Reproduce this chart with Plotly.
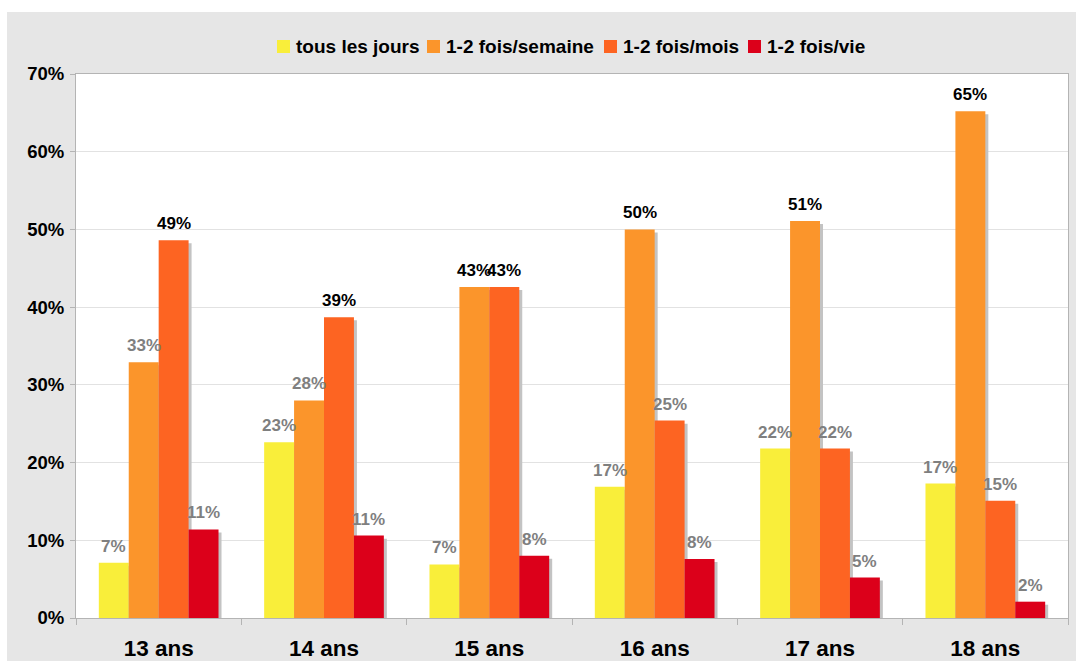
import plotly.graph_objects as go

# ── Data ───────────────────────────────────────────────────────────────────
ages = ["13 ans", "14 ans", "15 ans", "16 ans", "17 ans", "18 ans"]
series_names = ["tous les jours", "1-2 fois/semaine", "1-2 fois/mois", "1-2 fois/vie"]

tous_les_jours = [7.1, 22.6, 6.9, 16.9, 21.8, 17.3]
fois_semaine = [32.9, 28.0, 42.6, 50.0, 51.1, 65.2]
fois_mois = [48.6, 38.7, 42.6, 25.4, 21.8, 15.1]
fois_vie = [11.4, 10.6, 8.0, 7.6, 5.2, 2.1]

y_ticks = [0, 10, 20, 30, 40, 50, 60, 70]
y_tick_labels = ["0%", "10%", "20%", "30%", "40%", "50%", "60%", "70%"]

# ── Style ──────────────────────────────────────────────────────────────────
COLORS = ["#f9ee3a", "#fb952b", "#fd6422", "#dc001a"]
SHADOW = "#c3c3c3"
FONT = "Arial, Liberation Sans, sans-serif"
BAR_W = 0.181
SHADOW_DX = 3 / 165.3      # ~3 px right
SHADOW_DY = 0.39           # ~3 px down (in %)

# plot area: 76..1068 px across, 74..618 px down
PLOT_LEFT, PLOT_BOTTOM, PLOT_W, PLOT_H = 76, 618, 992, 544


def px_x(page_x):
    return (page_x - PLOT_LEFT) / PLOT_W


def px_y(page_y):
    return (PLOT_BOTTOM - page_y) / PLOT_H


all_series = [tous_les_jours, fois_semaine, fois_mois, fois_vie]
group_max = [max(s[j] for s in all_series) for j in range(len(ages))]

fig = go.Figure()

# drop shadows first, so the bars sit on top
for i, vals in enumerate(all_series):
    off = -2 * BAR_W + i * BAR_W
    fig.add_trace(go.Bar(
        x=ages, y=[v - SHADOW_DY for v in vals], width=BAR_W, offset=off + SHADOW_DX,
        marker=dict(color=SHADOW, line=dict(width=0)),
        showlegend=False, hoverinfo="skip",
    ))

annotations = []
for i, (name, vals) in enumerate(zip(series_names, all_series)):
    off = -2 * BAR_W + i * BAR_W
    fig.add_trace(go.Bar(
        name=name, x=ages, y=vals, width=BAR_W, offset=off,
        marker=dict(color=COLORS[i], line=dict(width=0)),
        showlegend=False,
    ))
    for j, v in enumerate(vals):
        annotations.append(dict(
            x=j + off + BAR_W / 2, y=v, xref="x", yref="y",
            text=f"{v:.0f}%", showarrow=False, yanchor="bottom", yshift=5,
            font=dict(family=FONT, size=17, weight="bold",
                      color="#000000" if v == group_max[j] else "#7f7f7f"),
        ))

# white strips above and left of the grey frame
shapes = [
    dict(type="rect", xref="paper", yref="paper", x0=-0.2, x1=1.2,
         y0=px_y(12), y1=1.3, fillcolor="#ffffff", line=dict(width=0), layer="below"),
    dict(type="rect", xref="paper", yref="paper", x0=-0.2, x1=px_x(7),
         y0=-0.2, y1=1.3, fillcolor="#ffffff", line=dict(width=0), layer="below"),
]

# hand-made legend (tight symbol/text spacing like the original)
legend_left = [277, 427, 604, 748]
for name, color, lx in zip(series_names, COLORS, legend_left):
    shapes.append(dict(type="rect", xref="paper", yref="paper",
                       x0=px_x(lx), x1=px_x(lx + 13), y0=px_y(53), y1=px_y(40),
                       fillcolor=color, line=dict(width=0)))
    annotations.append(dict(
        x=px_x(lx + 17), y=px_y(46.5), xref="paper", yref="paper",
        xanchor="left", yanchor="middle", showarrow=False, text=name,
        font=dict(family=FONT, size=19, weight="bold", color="#000000"),
    ))

fig.update_layout(
    width=1076, height=661,
    margin=dict(l=76, r=8, t=74, b=43),
    paper_bgcolor="#e6e6e6",
    plot_bgcolor="#ffffff",
    barmode="overlay",
    font=dict(family=FONT, color="#000000"),
    annotations=annotations,
    shapes=shapes,
    showlegend=False,
)

fig.update_xaxes(
    type="category", range=[-0.5, 5.5], automargin=False,
    showline=True, linecolor="#b4b4b4", linewidth=1, mirror=True,
    tickson="boundaries", ticks="outside", ticklen=6, tickcolor="#b4b4b4",
    tickfont=dict(family=FONT, size=22.5, weight="bold", color="#000000"),
    ticklabelstandoff=10,
    showgrid=False,
)
fig.update_yaxes(
    range=[0, 70], tickvals=y_ticks, ticktext=y_tick_labels, automargin=False,
    showline=True, linecolor="#b4b4b4", linewidth=1, mirror=True,
    ticks="outside", ticklen=5, tickcolor="#b4b4b4",
    showgrid=True, gridcolor="#e2e2e2", gridwidth=1,
    tickfont=dict(family=FONT, size=18.5, weight="bold", color="#000000"),
    ticklabelstandoff=2,
    zeroline=False,
)

# drop the default 8px page margin so the figure fills the window exactly
fig.write_html("out.html", config={"displayModeBar": False},
               post_script="document.body.style.margin = '0';")
